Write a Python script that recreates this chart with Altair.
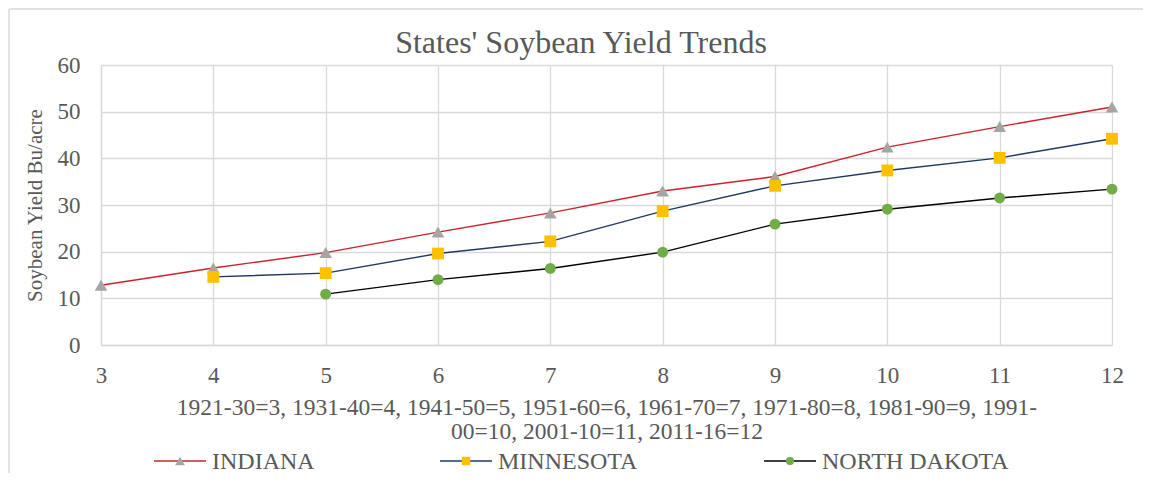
import altair as alt
import pandas as pd

periods = [3, 4, 5, 6, 7, 8, 9, 10, 11, 12]
indiana = [12.8, 16.5, 19.8, 24.2, 28.3, 33.0, 36.1, 42.4, 46.8, 51.0]
minnesota = [None, 14.6, 15.4, 19.6, 22.2, 28.7, 34.1, 37.4, 40.1, 44.2]
north_dakota = [None, None, 10.9, 14.0, 16.4, 19.9, 25.9, 29.1, 31.5, 33.4]

states = ["INDIANA", "MINNESOTA", "NORTH DAKOTA"]
line_colors = ["#D0202A", "#203864", "#000000"]
marker_colors = ["#A5A5A5", "#FFC000", "#70AD47"]
marker_shapes = ["triangle-up", "square", "circle"]
marker_sizes = [160, 120, 110]

title_text = "States' Soybean Yield Trends"
y_title = "Soybean Yield Bu/acre"
x_title = ["1921-30=3, 1931-40=4, 1941-50=5, 1951-60=6, 1961-70=7, 1971-80=8, 1981-90=9, 1991-",
           "00=10, 2001-10=11, 2011-16=12"]

rows = []
for name, series in zip(states, [indiana, minnesota, north_dakota]):
    for p, v in zip(periods, series):
        if v is not None:
            rows.append({"state": name, "period": p, "yield": v})
df = pd.DataFrame(rows)

FONT = "Liberation Serif"
GRAY = "#595959"
GRID = "#D9D9D9"
W, H = 1011, 280

xenc = alt.X("period:Q", scale=alt.Scale(domain=[3, 12], nice=False, zero=False),
             axis=alt.Axis(values=periods, format="d", title=x_title, grid=True, ticks=False,
                           labelFlush=False, labelPadding=19, titlePadding=8,
                           titleLineHeight=24, titleFontSize=23.5))
yenc = alt.Y("yield:Q", scale=alt.Scale(domain=[0, 60], nice=False),
             axis=alt.Axis(values=[0, 10, 20, 30, 40, 50, 60], title=y_title, grid=True,
                           ticks=False, labelPadding=21, titlePadding=12, titleFontSize=21))

base = alt.Chart(df)
lines = base.mark_line(strokeWidth=1.4).encode(
    x=xenc, y=yenc,
    stroke=alt.Stroke("state:N", scale=alt.Scale(domain=states, range=line_colors), legend=None),
    detail="state:N",
)
points = base.mark_point(filled=True, opacity=1, strokeWidth=0).encode(
    x="period:Q", y="yield:Q",
    fill=alt.Fill("state:N", scale=alt.Scale(domain=states, range=marker_colors), legend=None),
    shape=alt.Shape("state:N", scale=alt.Scale(domain=states, range=marker_shapes), legend=None),
    size=alt.Size("state:N", scale=alt.Scale(domain=states, range=marker_sizes), legend=None),
)

one = pd.DataFrame({"k": [0]})

# chart title (as a text mark, positioned relative to the plot area)
title = alt.Chart(one).mark_text(text=title_text, align="center", baseline="alphabetic",
                                 font=FONT, fontSize=32, color=GRAY).encode(
    x=alt.value(480), y=alt.value(-12))

# manual legend (layout positions relative to plot area)
legend_x = [53, 339, 663]
legend_y = 396
legend_layers = []
for i, name in enumerate(states):
    x0 = legend_x[i]
    legend_layers.append(alt.Chart(one).mark_rule(color=line_colors[i], strokeWidth=1.4).encode(
        x=alt.value(x0), x2=alt.value(x0 + 52), y=alt.value(legend_y)))
    legend_layers.append(alt.Chart(one).mark_point(filled=True, opacity=1, strokeWidth=0,
                                                    shape=marker_shapes[i], size=marker_sizes[i] * 0.6,
                                                    color=marker_colors[i]).encode(
        x=alt.value(x0 + 26), y=alt.value(legend_y)))
    legend_layers.append(alt.Chart(one).mark_text(text=name, align="left", baseline="middle",
                                                   font=FONT, fontSize=24, color=GRAY).encode(
        x=alt.value(x0 + 58), y=alt.value(legend_y + 1)))

# chart area frame (top and left edges visible)
frame_top = alt.Chart(one).mark_rule(color=GRID, strokeWidth=1.5).encode(
    x=alt.value(-92), x2=alt.value(1042), y=alt.value(-56))
frame_left = alt.Chart(one).mark_rule(color=GRID, strokeWidth=1.5).encode(
    x=alt.value(-92), y=alt.value(-56), y2=alt.value(420))

chart = alt.layer(lines, points, title, *legend_layers, frame_top, frame_left).resolve_scale(
    shape="independent", size="independent"
).properties(
    width=W, height=H,
    autosize=alt.AutoSizeParams(type="none"),
    padding={"left": 93, "top": 57, "right": 31, "bottom": 128},
).configure_view(stroke=None).configure_axis(
    labelFont=FONT, labelFontSize=23, labelColor=GRAY,
    titleFont=FONT, titleColor=GRAY, titleFontWeight="normal",
    gridColor=GRID, gridWidth=1.3, domainColor=GRID, domainWidth=1.3,
)

chart.save("out.html", embed_options={"renderer": "svg", "actions": False})
